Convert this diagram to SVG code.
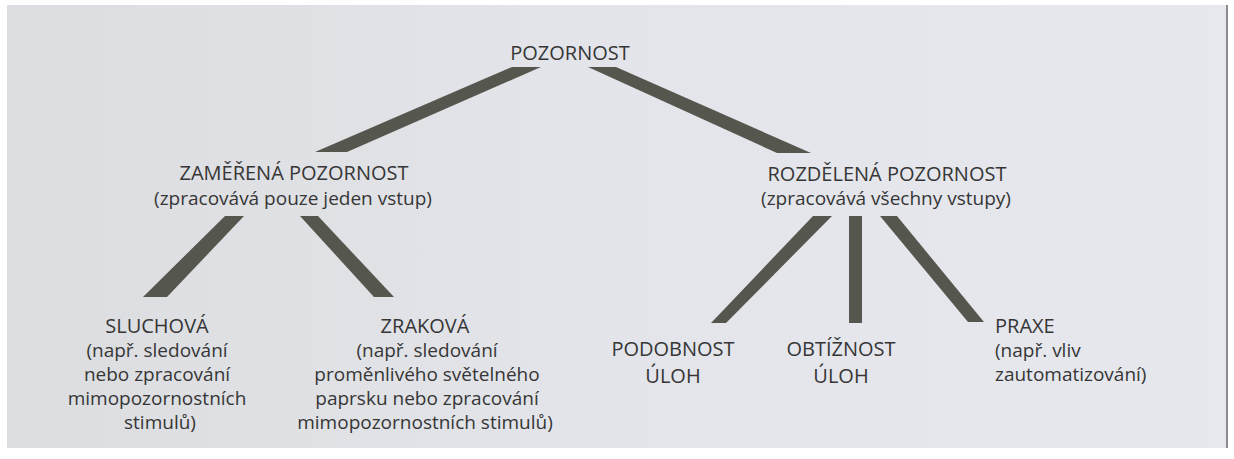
<svg xmlns="http://www.w3.org/2000/svg" width="1234" height="459" viewBox="0 0 1234 459">
  <defs>
    <linearGradient id="paper" x1="0" y1="0" x2="1" y2="0">
      <stop offset="0" stop-color="#dcdde0"/>
      <stop offset="0.5" stop-color="#e3e5ea"/>
      <stop offset="1" stop-color="#e6e8ee"/>
    </linearGradient>
    <style>
      .t { font-family: "Open Sans", "Noto Sans", "Liberation Sans", sans-serif; fill: #363636; }
      .cap { font-size: 20px; }
      .low { font-size: 19px; }
      .mid { text-anchor: middle; }
      .bar { fill: #55574f; }
    </style>
  </defs>
  <rect x="0" y="0" width="1234" height="459" fill="#ffffff"/>
  <rect x="7" y="5" width="1221" height="443" fill="url(#paper)"/>
  <rect x="1226" y="5" width="2" height="443" fill="#8a8c90"/>

  <g id="connectors">
    <polygon class="bar" points="512,67 541,67 347,152 315,152"/>
    <polygon class="bar" points="588,67 616,67 811,153 777,153"/>
    <polygon class="bar" points="225,216 244,216 167,297 143,297"/>
    <polygon class="bar" points="300,216 318,216 394,297 374,297"/>
    <polygon class="bar" points="813,216 832,216 726,323 711,323"/>
    <polygon class="bar" points="849,216 862,216 862,323 849,323"/>
    <polygon class="bar" points="880,216 897,216 984,322 968,322"/>
  </g>

  <g id="pozornost">
    <text class="t cap mid" x="570" y="60">POZORNOST</text>
  </g>
  <g id="zamerena">
    <text class="t cap mid" x="294" y="180">ZAMĚŘENÁ POZORNOST</text>
    <text class="t low mid" x="293" y="205">(zpracovává pouze jeden vstup)</text>
  </g>
  <g id="rozdelena">
    <text class="t cap mid" x="887" y="181">ROZDĚLENÁ POZORNOST</text>
    <text class="t low mid" x="886" y="205">(zpracovává všechny vstupy)</text>
  </g>
  <g id="sluchova">
    <text class="t cap mid" x="157" y="333">SLUCHOVÁ</text>
    <text class="t low mid" x="157" y="357">(např. sledování</text>
    <text class="t low mid" x="157" y="381">nebo zpracování</text>
    <text class="t low mid" x="157" y="405">mimopozornostních</text>
    <text class="t low mid" x="160" y="429">stimulů)</text>
  </g>
  <g id="zrakova">
    <text class="t cap mid" x="425" y="333">ZRAKOVÁ</text>
    <text class="t low mid" x="427" y="357">(např. sledování</text>
    <text class="t low mid" x="427" y="381">proměnlivého světelného</text>
    <text class="t low mid" x="427" y="405">paprsku nebo zpracování</text>
    <text class="t low mid" x="425" y="429">mimopozornostních stimulů)</text>
  </g>
  <g id="podobnost">
    <text class="t cap mid" x="673" y="356">PODOBNOST</text>
    <text class="t cap mid" x="673" y="383">ÚLOH</text>
  </g>
  <g id="obtiznost">
    <text class="t cap mid" x="841" y="356">OBTÍŽNOST</text>
    <text class="t cap mid" x="841" y="383">ÚLOH</text>
  </g>
  <g id="praxe">
    <text class="t cap" x="995" y="333">PRAXE</text>
    <text class="t low" x="995" y="357">(např. vliv</text>
    <text class="t low" x="995" y="381">zautomatizování)</text>
  </g>
</svg>
